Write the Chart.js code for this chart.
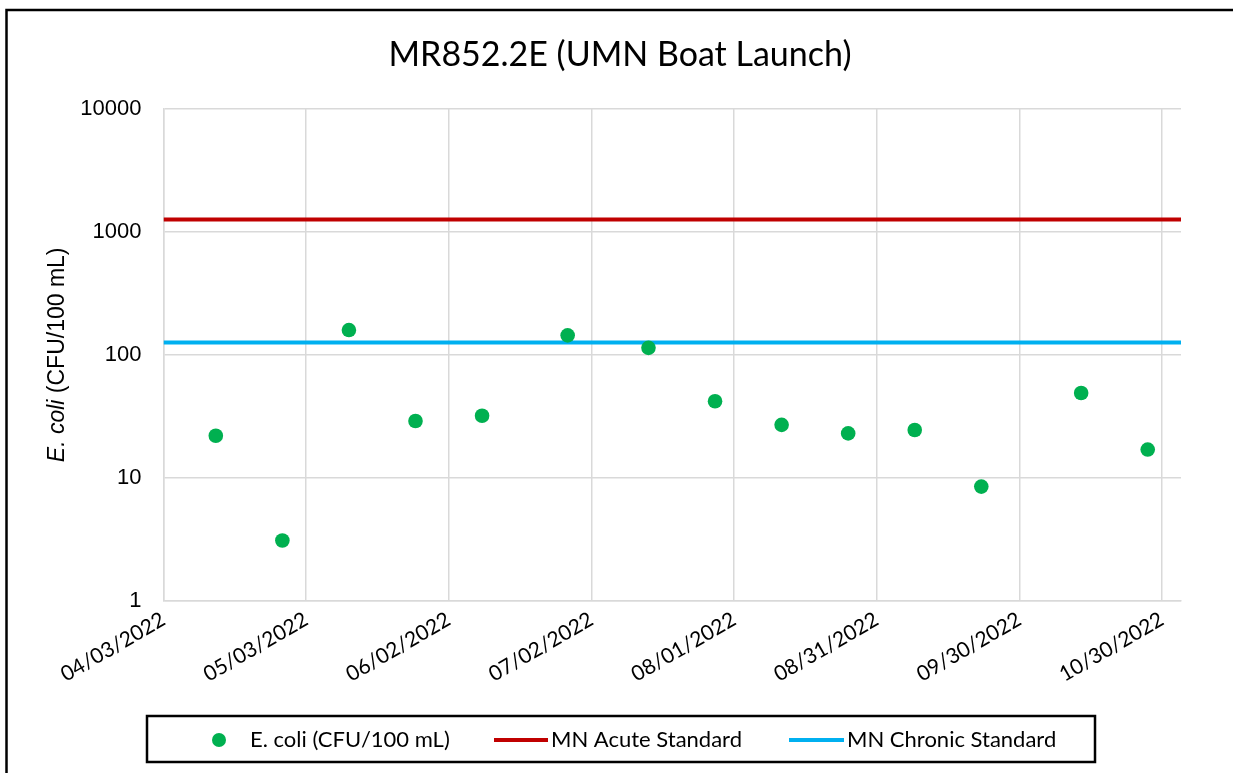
<!DOCTYPE html>
<html>
<head>
<meta charset="utf-8">
<script src="https://cdn.jsdelivr.net/npm/chart.js@4/dist/chart.umd.min.js"></script>
<style>
  html, body { margin: 0; padding: 0; background: #fff; }
  #wrap { width: 1233px; height: 773px; position: relative; }
</style>
</head>
<body>
<div id="wrap"><canvas id="graficoEcoli"></canvas></div>
<script>
// sample dates and E. coli results (CFU/100 mL)
var sampleDates = ["04/14/2022", "04/28/2022", "05/12/2022", "05/26/2022", "06/09/2022", "06/27/2022", "07/14/2022",
  "07/28/2022", "08/11/2022", "08/25/2022", "09/08/2022", "09/22/2022", "10/13/2022", "10/27/2022"];
var ecoliValues = [22, 3.1, 159, 29, 32, 144, 114, 42, 27, 23, 24.5, 8.5, 49, 17];

// standards span the whole axis
var standardDates = ["04/03/2022", "11/03/2022"];
var acuteValues = [1260, 1260];
var chronicValues = [126, 126];

var xTickLabels = ["04/03/2022", "05/03/2022", "06/02/2022", "07/02/2022", "08/01/2022", "08/31/2022", "09/30/2022", "10/30/2022"];
var yTickValues = [1, 10, 100, 1000, 10000];

var chartTitle = "MR852.2E (UMN Boat Launch)";

function toDay(s) {
  var p = s.split("/");
  return Date.UTC(+p[2], +p[0] - 1, +p[1]) / 86400000;
}

function formatDay(v) {
  var d = new Date(Math.round(v) * 86400000);
  var mm = String(d.getUTCMonth() + 1).padStart(2, "0");
  var dd = String(d.getUTCDate()).padStart(2, "0");
  return mm + "/" + dd + "/" + d.getUTCFullYear();
}

function pairs(dates, values) {
  return dates.map(function (d, i) {
    return { x: toDay(d), y: values[i] };
  });
}

var calibriLike = "Lato, 'Open Sans', sans-serif";
var arialLike = "'Liberation Sans', Arial, sans-serif";

var frame = {
  id: "frame",
  beforeDraw: function (chart) {
    var ctx = chart.ctx;
    ctx.save();
    ctx.fillStyle = "#fff";
    ctx.fillRect(0, 0, chart.width, chart.height);
    ctx.strokeStyle = "#000";
    ctx.lineWidth = 2.5;
    ctx.beginPath();
    ctx.moveTo(6.5, chart.height + 2);
    ctx.lineTo(6.5, 10);
    ctx.lineTo(chart.width + 2, 10);
    ctx.stroke();

    // title
    ctx.fillStyle = "#000";
    ctx.font = "34px " + calibriLike;
    ctx.textAlign = "center";
    ctx.textBaseline = "middle";
    ctx.fillText(chartTitle, 620, 55);
    ctx.restore();
  }
};

var yTitle = {
  id: "yTitle",
  afterDraw: function (chart) {
    var ctx = chart.ctx;
    var area = chart.chartArea;
    var italic = "E. coli";
    var rest = " (CFU/100 mL)";
    ctx.save();
    ctx.translate(58, (area.top + area.bottom) / 2);
    ctx.rotate(-Math.PI / 2);
    ctx.fillStyle = "#000";
    ctx.textBaseline = "middle";
    ctx.font = "italic 23px " + arialLike;
    var w1 = ctx.measureText(italic).width;
    ctx.font = "23px " + arialLike;
    var w2 = ctx.measureText(rest).width;
    var start = -(w1 + w2) / 2;
    ctx.font = "italic 23px " + arialLike;
    ctx.fillText(italic, start, 0);
    ctx.font = "23px " + arialLike;
    ctx.fillText(rest, start + w1, 0);
    ctx.restore();
  }
};

var legendBox = {
  id: "legendBox",
  afterDraw: function (chart) {
    var ctx = chart.ctx;
    var ds = chart.data.datasets;
    var y = 740;
    ctx.save();
    ctx.strokeStyle = "#000";
    ctx.lineWidth = 2.5;
    ctx.strokeRect(147, 716, 948, 46);

    ctx.font = "22px " + calibriLike;
    ctx.fillStyle = "#000";
    ctx.textBaseline = "middle";

    ctx.beginPath();
    ctx.fillStyle = ds[0].backgroundColor;
    ctx.arc(219, y, 7, 0, Math.PI * 2);
    ctx.fill();
    ctx.fillStyle = "#000";
    ctx.fillText(ds[0].label, 250, y);

    ctx.lineWidth = 4;
    ctx.strokeStyle = ds[1].borderColor;
    ctx.beginPath();
    ctx.moveTo(494, y);
    ctx.lineTo(548, y);
    ctx.stroke();
    ctx.fillText(ds[1].label, 551, y);

    ctx.strokeStyle = ds[2].borderColor;
    ctx.beginPath();
    ctx.moveTo(789, y);
    ctx.lineTo(844, y);
    ctx.stroke();
    ctx.fillText(ds[2].label, 847, y);
    ctx.restore();
  }
};

var el = document.getElementById("graficoEcoli");
new Chart(el, {
  type: "scatter",
  data: {
    datasets: [
      {
        label: "E. coli (CFU/100 mL)",
        data: pairs(sampleDates, ecoliValues),
        backgroundColor: "#00b050",
        borderColor: "#00b050",
        pointRadius: 7.3,
        pointBorderWidth: 0,
        showLine: false
      },
      {
        label: "MN Acute Standard",
        data: pairs(standardDates, acuteValues),
        borderColor: "#c00000",
        backgroundColor: "#c00000",
        borderWidth: 4,
        pointRadius: 0,
        showLine: true
      },
      {
        label: "MN Chronic Standard",
        data: pairs(standardDates, chronicValues),
        borderColor: "#00b0f0",
        backgroundColor: "#00b0f0",
        borderWidth: 4,
        pointRadius: 0,
        showLine: true
      }
    ]
  },
  options: {
    responsive: true,
    maintainAspectRatio: false,
    animation: false,
    layout: { padding: { left: 0, right: 52, top: 108.7, bottom: 0 } },
    plugins: {
      legend: { display: false },
      tooltip: { enabled: false },
      title: { display: false }
    },
    scales: {
      x: {
        type: "linear",
        min: toDay(standardDates[0]),
        max: toDay(standardDates[1]),
        afterBuildTicks: function (axis) {
          axis.ticks = xTickLabels.map(function (s) { return { value: toDay(s) }; });
        },
        afterFit: function (axis) { axis.height = 172; },
        ticks: {
          autoSkip: false,
          minRotation: 30,
          maxRotation: 30,
          padding: 6,
          color: "#000",
          font: { family: calibriLike, size: 21 },
          callback: function (v) { return formatDay(v); }
        },
        grid: { color: "#d9d9d9", lineWidth: 1.5, drawTicks: false },
        border: { color: "#d9d9d9", width: 1.5 }
      },
      y: {
        type: "logarithmic",
        min: 1,
        max: 10000,
        afterBuildTicks: function (axis) {
          axis.ticks = yTickValues.map(function (v) { return { value: v }; });
        },
        afterFit: function (axis) { axis.width = 163.5; },
        ticks: {
          padding: 22,
          color: "#000",
          font: { family: arialLike, size: 22 },
          callback: function (v) { return String(v); }
        },
        grid: { color: "#d9d9d9", lineWidth: 1.5, drawTicks: false },
        border: { color: "#d9d9d9", width: 1.5 }
      }
    }
  },
  plugins: [frame, yTitle, legendBox]
});
</script>
</body>
</html>
